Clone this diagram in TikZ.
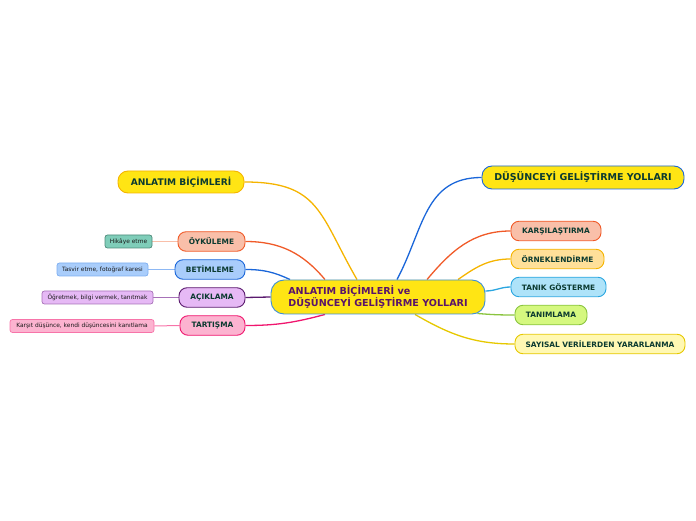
\documentclass[tikz,border=0pt]{standalone}
\usepackage{fontspec}
\setmainfont{DejaVu Sans}
\usetikzlibrary{backgrounds}
\definecolor{mapyel}{RGB}{255,229,20}
\definecolor{mapblue}{RGB}{26,102,217}
\definecolor{cenblue}{RGB}{61,143,214}
\definecolor{mapgold}{RGB}{245,180,0}
\definecolor{maptxt}{RGB}{11,58,48}
\definecolor{cenpurple}{RGB}{90,20,105}
\definecolor{sorange}{RGB}{240,90,40}
\definecolor{fsalmon}{RGB}{249,191,169}
\definecolor{fblue}{RGB}{169,205,251}
\definecolor{fpurple}{RGB}{230,185,245}
\definecolor{spurple}{RGB}{90,26,110}
\definecolor{fpink}{RGB}{252,179,208}
\definecolor{spink}{RGB}{240,22,110}
\definecolor{fteal}{RGB}{127,205,185}
\definecolor{steal}{RGB}{77,138,122}
\definecolor{fpeach}{RGB}{255,224,153}
\definecolor{fsky}{RGB}{174,227,249}
\definecolor{ssky}{RGB}{42,166,224}
\definecolor{flime}{RGB}{213,248,127}
\definecolor{slime}{RGB}{138,196,63}
\definecolor{fcream}{RGB}{255,248,179}
\definecolor{scream}{RGB}{230,200,0}
\tikzset{
  mainbx/.style={draw=cenblue, fill=mapyel, rounded corners=13pt, line width=0.9pt,
                 minimum width=214pt, minimum height=34pt, align=left,
                 font=\fontsize{9.6}{11.5}\selectfont\bfseries, text=cenpurple},
  subbx/.style 2 args={fill=#1, draw=#2, rounded corners=8pt, line width=0.9pt,
                 minimum height=19.5pt, inner sep=2pt,
                 font=\fontsize{7.4}{8}\selectfont\bfseries, text=maptxt},
  leafbx/.style 2 args={fill=#1, draw=#2, rounded corners=2.5pt, line width=0.7pt,
                 minimum height=13pt, inner sep=1.5pt,
                 font=\fontsize{5.9}{6.5}\selectfont, text=black!90},
  conn/.style={line width=1.3pt},
  twig/.style={line width=1pt},
}
\begin{document}
\begin{tikzpicture}[x=1pt, y=1pt]
  \useasboundingbox (0,0) rectangle (696,520);

  % centre
  \node[mainbx] (cen) at (378,223) {ANLATIM BİÇİMLERİ ve\\DÜŞÜNCEYİ GELİŞTİRME YOLLARI};

  % main branches
  \node[draw=mapgold, fill=mapyel, rounded corners=10pt, line width=0.9pt,
        minimum width=126pt, minimum height=22pt,
        font=\fontsize{9.1}{11}\selectfont\bfseries, text=maptxt] (ab) at (181,338) {ANLATIM BİÇİMLERİ};
  \node[draw=mapblue, fill=mapyel, rounded corners=10pt, line width=0.9pt,
        minimum width=202pt, minimum height=23pt,
        font=\fontsize{9.5}{11}\selectfont\bfseries, text=maptxt] (dg) at (583,342.5) {DÜŞÜNCEYİ GELİŞTİRME YOLLARI};

  % left side
  \node[subbx={fsalmon}{sorange}, minimum width=67pt] (oyk) at (211.5,278.5) {ÖYKÜLEME};
  \node[subbx={fblue}{mapblue}, minimum width=70pt] (bet) at (210,250.5) {BETİMLEME};
  \node[subbx={fpurple}{spurple}, minimum width=66pt] (ack) at (212,222.5) {AÇIKLAMA};
  \node[subbx={fpink}{spink}, minimum width=65pt] (tar) at (212.5,194.5) {TARTIŞMA};

  \node[leafbx={fteal}{steal}, minimum width=47pt] (hik) at (128.5,278.5) {Hikâye etme};
  \node[leafbx={fblue}{fblue!70!mapblue}, minimum width=91pt] (tas) at (102.5,250.5) {Tasvir etme, fotoğraf karesi};
  \node[leafbx={fpurple}{fpurple!55!spurple}, minimum width=111pt] (ogr) at (97.5,222.5) {Öğretmek, bilgi vermek, tanıtmak};
  \node[leafbx={fpink}{fpink!60!spink}, minimum width=144pt] (kar) at (82,194) {Karşıt düşünce, kendi düşüncesini kanıtlama};

  % right side
  \node[subbx={fsalmon}{sorange}, minimum width=90pt] (kars) at (556,289) {KARŞILAŞTIRMA};
  \node[subbx={fpeach}{mapgold}, minimum width=93pt] (orn) at (557.5,261) {ÖRNEKLENDİRME};
  \node[subbx={fsky}{ssky}, minimum width=95pt] (tan) at (558.5,233) {TANIK GÖSTERME};
  \node[subbx={flime}{slime}, minimum width=72pt] (tnm) at (551,205) {TANIMLAMA};
  \node[subbx={fcream}{scream}, minimum width=170pt] (say) at (600,176) {SAYISAL VERİLERDEN YARARLANMA};

  \begin{scope}[on background layer]
    % branches into the centre
    \draw[conn, mapgold] (ab.east) to[out=0, in=120, looseness=1.3] ([xshift=-21pt]cen.north);
    \draw[conn, mapblue] (dg.west) to[out=180, in=62, looseness=1.1] ([xshift=19pt]cen.north);
    \draw[conn, sorange] (oyk.east) to[out=0, in=130] ([xshift=-53pt]cen.north);
    \draw[conn, mapblue] (bet.east) to[out=0, in=155] ([xshift=-88pt]cen.north);
    \draw[conn, spurple] (ack.east) -- (cen.west);
    \draw[conn, spink] (tar.east) to[out=0, in=195] ([xshift=-53pt]cen.south);
    \draw[conn, sorange] (kars.west) to[out=180, in=50] ([xshift=49pt]cen.north);
    \draw[conn, mapgold] (orn.west) to[out=180, in=35] ([xshift=80pt]cen.north);
    \draw[conn, ssky] (tan.west) to[out=180, in=0] ([yshift=6pt]cen.east);
    \draw[conn, slime] (tnm.west) to[out=180, in=-5] ([xshift=-8pt, yshift=1pt]cen.south east);
    \draw[conn, scream] (say.west) to[out=180, in=-30] ([xshift=37pt]cen.south);
    % leaves
    \draw[twig, fsalmon] (oyk.west) -- (hik.east);
    \draw[twig, fblue!80!mapblue] (bet.west) -- (tas.east);
    \draw[twig, fpurple!55!spurple] (ack.west) -- (ogr.east);
    \draw[twig, fpink!60!spink] (tar.west) -- (kar.east);
  \end{scope}
\end{tikzpicture}
\end{document}
